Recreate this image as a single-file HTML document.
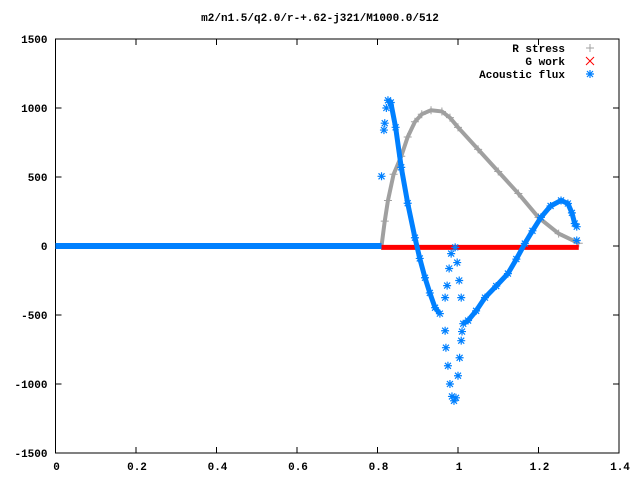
<!DOCTYPE html>
<html><head><meta charset="utf-8"><style>
html,body{margin:0;padding:0;background:#fff}
svg{display:block}
text{font-family:"Liberation Mono","DejaVu Sans Mono",monospace;font-size:11px;font-weight:bold;fill:#000}
</style></head><body>
<svg id="chart" width="640" height="480" viewBox="0 0 640 480">
<rect x="0" y="0" width="640" height="480" fill="#fff"/>
<text x="320" y="21" text-anchor="middle">m2/n1.5/q2.0/r-+.62-j321/M1000.0/512</text>
<g id="axes"></g>
<g id="series"></g>
<g id="legend">
<text x="565" y="52" text-anchor="end">R stress</text>
<text x="565" y="65" text-anchor="end">G work</text>
<text x="565" y="78" text-anchor="end">Acoustic flux</text>
</g>
</svg>
<script>
const xTicks=[0,0.2,0.4,0.6,0.8,1,1.2,1.4];
const xTickLabels=["0","0.2","0.4","0.6","0.8","1","1.2","1.4"];
const yTicks=[-1500,-1000,-500,0,500,1000,1500];
const yTickLabels=["-1500","-1000","-500","0","500","1000","1500"];
const rStressX=[0.81,0.818,0.826,0.84,0.859,0.875,0.893,0.91,0.933,0.96,0.98,1.0,1.05,1.1,1.15,1.2,1.25,1.3];
const rStressY=[0,180,330,520,650,790,900,955,984,975,930,860,700,540,380,207,90,20];
const gWorkX=[0.81,1.3];
const gWorkY=[-10,-10];
const fluxFlatX=[0,0.81];
const fluxFlatY=[0,0];
const fluxLeftX=[0.826,0.833,0.845,0.859,0.875,0.893,0.905,0.918,0.93,0.943,0.955];
const fluxLeftY=[1056,1040,860,570,310,60,-90,-230,-340,-447,-490];
const fluxRightX=[1.013,1.025,1.045,1.067,1.095,1.124,1.145,1.166,1.185,1.206,1.23,1.256,1.273,1.283,1.29,1.295];
const fluxRightY=[-563,-540,-470,-374,-290,-200,-95,18,110,207,290,330,308,240,163,140];
const spikeX=[0.81,0.816,0.818,0.822,0.968,0.968,0.97,0.975,0.98,0.985,0.99,0.995,1.0,1.004,1.008,1.01,1.008,1.003,0.998,0.993,0.983,0.978,0.973,1.295];
const spikeY=[505,840,890,1000,-374,-614,-737,-868,-1000,-1090,-1122,-1100,-940,-810,-686,-620,-374,-250,-120,-10,-55,-163,-287,40];

const L=55.5,R=619,T=39,B=453;
const xs=v=>L+(v-0)/1.4*(R-L);
const ys=v=>B-(v+1500)/3000*(B-T);
const NS='http://www.w3.org/2000/svg';
function mk(tag,attrs,parent){const e=document.createElementNS(NS,tag);for(const k in attrs)e.setAttribute(k,attrs[k]);parent.appendChild(e);return e;}
const axes=document.getElementById('axes');
const ser=document.getElementById('series');
let frame=mk('rect',{x:L,y:T,width:R-L,height:B-T,fill:'none',stroke:'#000','stroke-width':1},axes);


xTicks.forEach((t,i)=>{const x=xs(t);
 let tk=mk('path',{d:`M${x} ${B}v-6M${x} ${T}v6`,stroke:'#000'},axes);
 
 
 let tx=mk('text',{x:x+1,y:B+17,'text-anchor':'middle'},axes);tx.textContent=xTickLabels[i];
 
 
});
yTicks.forEach((t,i)=>{const y=ys(t);
 let tk=mk('path',{d:`M${L} ${y}h6M${R} ${y}h-6`,stroke:'#000'},axes);
 
 
 let tx=mk('text',{x:L-8,y:y+4,'text-anchor':'end'},axes);tx.textContent=yTickLabels[i];
 
 
});
function plus(x,y,c,g){mk('path',{d:`M${x-4} ${y}h8M${x} ${y-4}v8`,stroke:c,'stroke-width':1},g);}
function cross(x,y,c,g){mk('path',{d:`M${x-4} ${y-4}l8 8M${x-4} ${y+4}l8 -8`,stroke:c,'stroke-width':1},g);}
function star(x,y,c,g){mk('path',{d:`M${x-4} ${y}h8M${x} ${y-4}v8M${x-3} ${y-3}l6 6M${x-3} ${y+3}l6 -6`,stroke:c,'stroke-width':1.2},g);}
function line(X,Y,c,w,name){const d=X.map((v,i)=>(i?'L':'M')+xs(v)+' '+ys(Y[i])).join('');
 const p=mk('path',{d:d,fill:'none',stroke:c,'stroke-width':w,'stroke-linejoin':'round'},ser);
 
 }
line(rStressX,rStressY,'#a0a0a0',4,'r-stress-series');
let gr=mk('g',{},ser);


rStressX.forEach((v,i)=>plus(xs(v),ys(rStressY[i]),'#a0a0a0',gr));
line(gWorkX,gWorkY,'#ff0000',5,'g-work-series');
line(fluxFlatX,fluxFlatY,'#0080ff',6,'acoustic-flux-flat');
line(fluxLeftX,fluxLeftY,'#0080ff',5,'acoustic-flux-left-branch');
line(fluxRightX,fluxRightY,'#0080ff',5,'acoustic-flux-right-branch');
let gs=mk('g',{},ser);


spikeX.forEach((v,i)=>star(xs(v),ys(spikeY[i]),'#0080ff',gs));
fluxLeftX.forEach((v,i)=>star(xs(v),ys(fluxLeftY[i]),'#0080ff',gs));
fluxRightX.forEach((v,i)=>star(xs(v),ys(fluxRightY[i]),'#0080ff',gs));
const lg=document.getElementById('legend');
plus(590,48,'#a0a0a0',lg);cross(590,61,'#ff0000',lg);star(590,74,'#0080ff',lg);
</script>
</body></html>
